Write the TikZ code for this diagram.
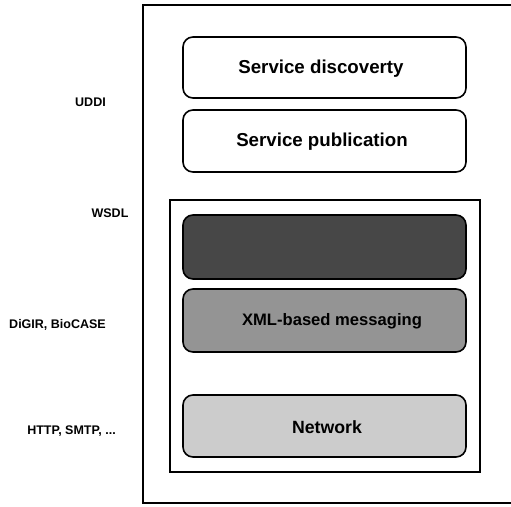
\documentclass[tikz,border=0pt]{standalone}
\usepackage{fontspec}
\setmainfont{Liberation Sans}
\begin{document}
\begin{tikzpicture}[x=1pt,y=-1pt,
  layer/.style={draw=black, line width=1.6pt, rounded corners=10pt},
  layertext/.style={font=\fontsize{18.7}{20}\selectfont\bfseries},
  sidelabel/.style={font=\fontsize{12.5}{14}\selectfont\bfseries, inner sep=0pt},
  frame/.style={draw=black, line width=1.4pt}]
\useasboundingbox (0,0) rectangle (511,506);
\clip (0,0) rectangle (511,506);
\fill[white] (0,0) rectangle (511,506);
% outer frame
\draw[frame] (143,5) rectangle (516,503);
% inner frame
\draw[frame] (170,200) rectangle (480,472);
% layers
\draw[layer, fill=white] (183,37) rectangle (466,98);
\node[layertext] (disc) at (321,69) {Service discoverty};
\draw[layer, fill=white] (183,110) rectangle (466,172);
\node[layertext] (pub) at (322,142) {Service publication};
\draw[layer, fill=black!72] (183,215) rectangle (466,279);
\coordinate (wsdlbox) at (324.5,247);
\draw[layer, fill=black!42] (183,289) rectangle (466,352);
\node[layertext, font=\fontsize{16.6}{18}\selectfont\bfseries] (xml) at (332,321.5) {XML-based messaging};
\draw[layer, fill=black!20] (183,395) rectangle (466,457);
\node[layertext, font=\fontsize{17.7}{19}\selectfont\bfseries] (net) at (327,427) {Network};
% side labels
\node[sidelabel] (uddi) at (90.5,102) {UDDI};
\node[sidelabel] (wsdl) at (110,213) {WSDL};
\node[sidelabel] (digir) at (57.5,325) {DiGIR, BioCASE};
\node[sidelabel] (http) at (71.5,431) {HTTP, SMTP, ...};
\end{tikzpicture}
\end{document}
